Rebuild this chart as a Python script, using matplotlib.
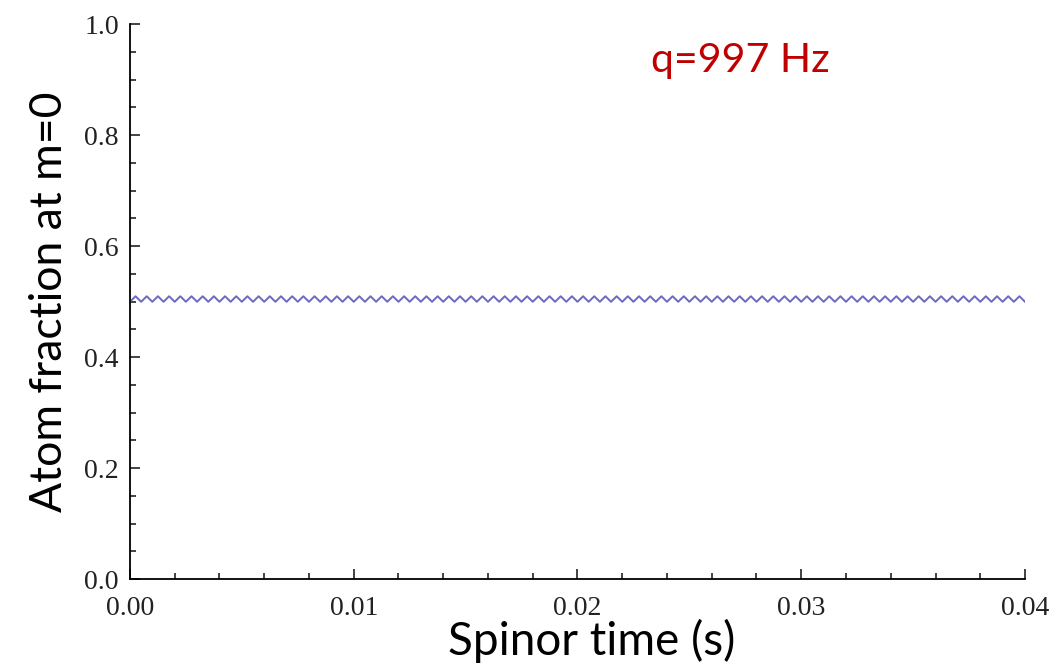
import numpy as np
import matplotlib.pyplot as plt
from matplotlib.ticker import MultipleLocator

# values
t_start = 0.0           # s
t_end = 0.04            # s
n_cycles = 80           # oscillation cycles counted across the plot
peak_value = 0.5095     # upper turning value of the wiggle
trough_value = 0.4995   # lower turning value of the wiggle
label_text = "q=997 Hz"

# turning points of the wiggle (trough, peak, trough, ...)
t_turn = np.linspace(t_start, t_end, 2 * n_cycles + 1)
y_turn = [trough_value if i % 2 == 0 else peak_value for i in range(len(t_turn))]

fig = plt.figure(figsize=(10.54, 6.69), dpi=100)
ax = fig.add_axes([0.1233, 0.1345, 0.8492, 0.8296])

ax.plot(t_turn, y_turn, color="#6a6ac0", lw=1.4)

ax.set_xlim(t_start, t_end)
ax.set_ylim(0, 1.0)
ax.spines["top"].set_visible(False)
ax.spines["right"].set_visible(False)
ax.spines["left"].set_linewidth(1.3)
ax.spines["bottom"].set_linewidth(1.3)

ax.xaxis.set_major_locator(MultipleLocator(0.01))
ax.xaxis.set_minor_locator(MultipleLocator(0.002))
ax.yaxis.set_major_locator(MultipleLocator(0.2))
ax.yaxis.set_minor_locator(MultipleLocator(0.05))
ax.tick_params(which="both", direction="in", width=1.2, colors="#222222")
ax.tick_params(which="major", length=7)
ax.tick_params(which="minor", length=4)
ax.set_xticklabels([f"{v:.2f}" for v in ax.get_xticks()], family="Liberation Serif", fontsize=20)
ax.set_yticklabels([f"{v:.1f}" for v in ax.get_yticks()], family="Liberation Serif", fontsize=20)
ax.tick_params(axis="x", pad=12)
ax.tick_params(axis="y", pad=8)

ax.set_xlabel("Spinor time (s)", family="Lato", fontsize=33)
ax.xaxis.set_label_coords(0.516, -0.072)
ax.set_ylabel("Atom fraction at m=0", family="Lato", fontsize=32, labelpad=10)

ax.text(0.0233, 0.935, label_text, color="#c00000", family="Lato", fontsize=29.5,
        transform=ax.transData, va="center")

fig.savefig("out.png", dpi=100)
